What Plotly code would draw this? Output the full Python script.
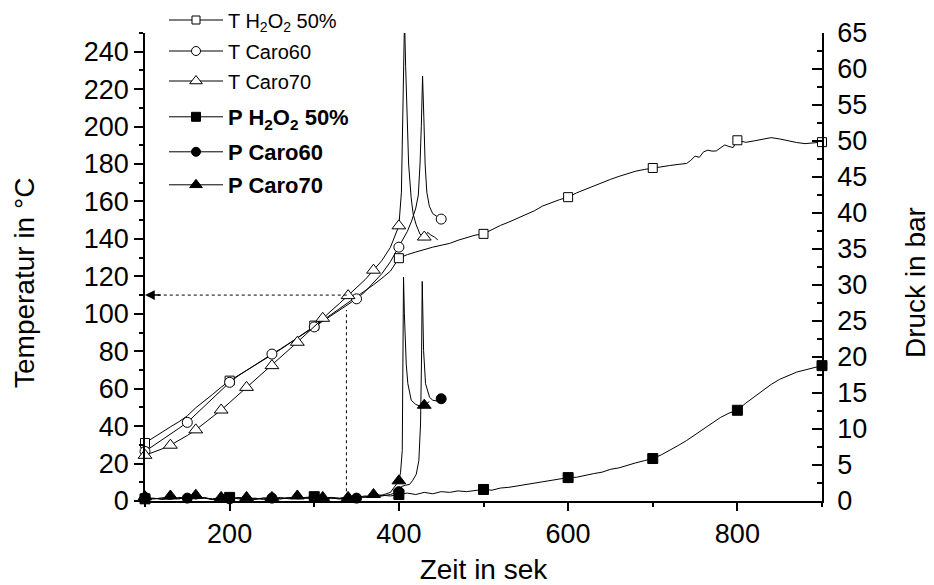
import plotly.graph_objects as go

FONT = "Arial, Liberation Sans, sans-serif"

# ---------------- data ----------------
# T H2O2 50 % (left axis, degC)
t_h2o2_time = [100, 110, 120, 130, 140, 150, 160, 170, 180, 190, 200, 210, 220, 230, 240, 250,
               260, 270, 280, 290, 300, 310, 320, 330, 340, 350, 360, 370, 380, 390, 400, 410,
               420, 430, 440, 450, 460, 470, 480, 490, 500, 510, 520, 530, 540, 550, 560, 570,
               580, 590, 600, 610, 620, 630, 640, 650, 660, 670, 680, 690, 700, 710, 720, 730,
               740, 745, 750, 755, 760, 765, 770, 775, 780, 785, 790, 795, 800, 810, 820, 830,
               840, 850, 860, 870, 880, 890, 900]
t_h2o2_temp = [31.0, 34.0, 36.8, 39.6, 42.3, 45.5, 49.8, 53.2, 57.0, 60.8, 64.3, 67.0, 69.8, 72.3,
               75.0, 77.8, 80.9, 84.0, 87.2, 90.4, 93.7, 96.5, 99.6, 102.8, 106.0, 108.8, 112.0,
               115.5, 119.0, 122.8, 129.7, 131.6, 133.0, 134.4, 135.6, 136.6, 137.6, 139.3, 140.6,
               142.0, 142.7, 145.0, 147.2, 149.0, 150.9, 153.0, 155.0, 157.6, 159.4, 161.0, 162.3,
               164.6, 166.4, 168.3, 170.0, 171.8, 173.4, 174.9, 176.2, 177.1, 177.9, 178.4, 179.2,
               179.8, 180.3, 182.0, 184.2, 183.6, 186.5, 187.4, 186.9, 187.0, 188.6, 190.2, 189.4,
               188.8, 192.7, 191.6, 192.4, 193.2, 194.1, 193.4, 192.4, 191.5, 190.9, 191.4, 191.7]
t_h2o2_marks = [100, 200, 300, 400, 500, 600, 700, 800, 900]

# T Caro60
t_c60_time = [100, 110, 120, 130, 140, 150, 160, 170, 180, 190, 200, 210, 220, 230, 240, 250,
              260, 270, 280, 290, 300, 310, 320, 330, 340, 350, 360, 370, 380, 390, 400, 405,
              410, 415, 420, 423, 425, 426.5, 428, 429.5, 431, 433, 436, 440, 445, 450]
t_c60_temp = [26.5, 29.5, 32.8, 35.8, 38.8, 42.0, 46.2, 50.6, 54.8, 59.2, 63.4, 66.8, 69.8, 72.8,
              75.8, 78.5, 81.2, 84.0, 87.0, 90.0, 93.0, 96.0, 99.2, 102.4, 105.2, 108.0, 111.8,
              116.5, 121.5, 127.8, 135.6, 139.5, 144.0, 149.5, 156.5, 163.5, 180.0, 200.0, 227.0,
              205.0, 180.0, 165.0, 157.5, 153.5, 152.0, 150.6]
t_c60_marks = [100, 150, 200, 250, 300, 350, 400, 450]

# T Caro70
t_c70_time = [100, 110, 120, 130, 140, 150, 160, 170, 180, 190, 200, 210, 220, 230, 240, 250,
              260, 270, 280, 290, 300, 310, 320, 330, 340, 350, 360, 370, 380, 390, 400, 403,
              405, 406.7, 408, 409.5, 411.5, 414.5, 417, 420.5, 425, 430, 434, 438, 442, 446]
t_c70_temp = [24.4, 26.0, 27.8, 29.8, 32.2, 35.0, 38.0, 41.5, 45.0, 48.6, 52.6, 56.6, 60.7, 64.6,
              68.5, 72.3, 76.5, 80.6, 84.8, 89.0, 93.3, 97.6, 101.6, 105.6, 109.7, 113.6, 118.2,
              123.3, 128.5, 135.5, 147.0, 165.0, 205.0, 258.0, 232.0, 212.0, 180.0, 162.0, 153.0,
              147.5, 142.5, 141.0, 143.5, 142.0, 141.0, 139.5]
t_c70_marks = [100, 130, 160, 190, 220, 250, 280, 310, 340, 370, 400, 430]

# P H2O2 50 % (right axis, bar)
p_h2o2_time = [100, 110, 120, 130, 140, 150, 160, 170, 180, 190, 200, 210, 220, 230, 240, 250,
               260, 270, 280, 290, 300, 310, 320, 330, 340, 350, 360, 370, 380, 390, 400, 410,
               420, 430, 440, 450, 460, 470, 480, 490, 500, 510, 520, 530, 540, 550, 560, 570,
               580, 590, 600, 610, 620, 630, 640, 650, 660, 670, 680, 690, 700, 710, 720, 730,
               740, 750, 760, 770, 780, 790, 800, 810, 820, 830, 840, 850, 860, 870, 880, 890, 900]
p_h2o2_pres = [0.3, 0.4, 0.2, 0.4, 0.3, 0.5, 0.3, 0.4, 0.2, 0.4, 0.5, 0.3, 0.4, 0.2, 0.4, 0.3,
               0.5, 0.3, 0.4, 0.5, 0.6, 0.4, 0.5, 0.4, 0.6, 0.5, 0.7, 0.6, 0.8, 0.7, 0.9, 1.1,
               0.9, 1.2, 1.0, 1.3, 1.2, 1.4, 1.3, 1.5, 1.6, 1.5, 1.8, 1.9, 2.1, 2.2, 2.4, 2.6,
               2.8, 3.0, 3.25, 3.3, 3.6, 3.8, 4.0, 4.4, 4.6, 5.0, 5.3, 5.6, 5.9, 6.4, 7.0, 7.7,
               8.4, 9.2, 10.1, 10.9, 11.6, 12.2, 12.6, 13.6, 14.5, 15.4, 16.2, 16.9, 17.4, 17.9,
               18.2, 18.5, 18.8]
p_h2o2_marks = [100, 200, 300, 400, 500, 600, 700, 800, 900]

# P Caro60
p_c60_time = [100, 110, 120, 130, 140, 150, 160, 170, 180, 190, 200, 210, 220, 230, 240, 250,
              260, 270, 280, 290, 300, 310, 320, 330, 340, 350, 360, 370, 380, 390, 400, 403,
              408, 412.6, 416, 420.5, 423.6, 425.6, 426.8, 427.6, 429.2, 431.5, 436.3, 440,
              444.2, 450]
p_c60_pres = [0.5, 0.3, 0.4, 0.2, 0.5, 0.4, 0.3, 0.5, 0.2, 0.4, 0.3, 0.5, 0.3, 0.4, 0.2, 0.4,
              0.3, 0.5, 0.3, 0.4, 0.5, 0.3, 0.4, 0.3, 0.5, 0.4, 0.6, 0.5, 0.7, 0.9, 1.3, 2.0,
              2.2, 2.3, 2.8, 3.7, 5.6, 10.7, 20.0, 30.5, 20.9, 16.3, 14.4, 14.0, 13.9, 14.2]
p_c60_marks = [100, 150, 200, 250, 300, 350, 400, 450]

# P Caro70
p_c70_time = [100, 110, 120, 130, 140, 150, 160, 170, 180, 190, 200, 210, 220, 230, 240, 250,
              260, 270, 280, 290, 300, 310, 320, 330, 340, 350, 360, 370, 380, 390, 400, 402,
              404, 404.7, 405.5, 406.5, 407.5, 408.7, 410.6, 414.6, 420, 425, 430, 436]
p_c70_pres = [0.6, 0.3, 0.4, 0.7, 0.3, 0.5, 0.8, 0.4, 0.3, 0.5, 0.3, 0.4, 0.5, 0.3, 0.4, 0.5,
              0.3, 0.4, 0.7, 0.4, 0.3, 0.5, 0.4, 0.3, 0.5, 0.6, 0.5, 0.9, 0.8, 1.2, 2.8, 4.0,
              7.0, 20.9, 31.1, 26.0, 22.0, 19.0, 16.3, 14.0, 13.4, 13.2, 13.3, 13.8]
p_c70_marks = [100, 130, 160, 190, 220, 250, 280, 310, 340, 370, 400, 430]

# reference marks (dotted guide lines)
ref_time = 338
ref_temp = 110

legend_names = ["T H<sub>2</sub>O<sub>2</sub> 50%", "T Caro60", "T Caro70",
                "<b>P H<sub>2</sub>O<sub>2</sub> 50%</b>", "<b>P Caro60</b>", "<b>P Caro70</b>"]
x_title = "Zeit in sek"
y_title = "Temperatur in °C"
y2_title = "Druck in bar"

# ---------------- figure ----------------
W, H = 934, 585
ML, MR, MT, MB = 145, 112, 33, 84
PW, PH = W - ML - MR, H - MT - MB

fig = go.Figure()


def pick(times, values, marks):
    lookup = dict(zip(times, values))
    return marks, [lookup[m] for m in marks]


series = [
    (t_h2o2_time, t_h2o2_temp, t_h2o2_marks, "y", "square", 9, "white"),
    (t_c60_time, t_c60_temp, t_c60_marks, "y", "circle", 10, "white"),
    (t_c70_time, t_c70_temp, t_c70_marks, "y", "triangle-up", 12, "white"),
    (p_h2o2_time, p_h2o2_pres, p_h2o2_marks, "y2", "square", 10, "black"),
    (p_c60_time, p_c60_pres, p_c60_marks, "y2", "circle", 10, "black"),
    (p_c70_time, p_c70_pres, p_c70_marks, "y2", "triangle-up", 12, "black"),
]

for i, (tx, vy, mk, yax, sym, size, fill) in enumerate(series):
    fig.add_trace(go.Scatter(x=tx, y=vy, mode="lines", yaxis=yax,
                             line=dict(color="black", width=1), showlegend=False,
                             hoverinfo="skip"))
    mx, my = pick(tx, vy, mk)
    fig.add_trace(go.Scatter(x=mx, y=my, mode="markers", yaxis=yax, cliponaxis=False,
                             marker=dict(symbol=sym, size=size, color=fill,
                                         line=dict(color="black", width=1)),
                             showlegend=False))

# legend entries, each in its own legend box (paper coordinates, no margin push)
legend_rows = [20, 51, 81, 117, 152, 185]
for i, (tx, vy, mk, yax, sym, size, fill) in enumerate(series):
    lname = "legend" if i == 0 else "legend%d" % (i + 1)
    fig.add_trace(go.Scatter(x=[None], y=[None], mode="lines+markers", yaxis=yax,
                             name=legend_names[i], legend=lname,
                             line=dict(color="black", width=1),
                             marker=dict(symbol=sym, size=size - 1, color=fill,
                                         line=dict(color="black", width=1))))

legend_layout = {}
for i, row in enumerate(legend_rows):
    lname = "legend" if i == 0 else "legend%d" % (i + 1)
    bold = i >= 3
    legend_layout[lname] = dict(
        xref="paper", yref="paper", x=(164 - ML) / PW, y=(H - MB - row) / PH,
        xanchor="left", yanchor="middle", bgcolor="rgba(0,0,0,0)", borderwidth=0,
        itemwidth=54, font=dict(family=FONT, size=22 if bold else 20, color="black"),
    )

# dotted guide lines
fig.add_shape(type="line", xref="x", yref="y", x0=108, x1=ref_time + 3, y0=ref_temp, y1=ref_temp,
              line=dict(color="black", width=1, dash="dot"))
fig.add_shape(type="line", xref="x", yref="y", x0=ref_time, x1=ref_time, y0=2, y1=ref_temp - 8,
              line=dict(color="black", width=1, dash="dot"))
fig.add_annotation(x=100, y=ref_temp, xref="x", yref="y", ax=17, ay=0, text="",
                   showarrow=True, arrowhead=2, arrowsize=1.3, arrowwidth=1.5,
                   arrowcolor="black", standoff=0)

# vertical axis titles (placed as in the reference, slightly below the axis centre)
title_y = (H - MB - 283) / PH
fig.add_annotation(text=y_title, xref="paper", yref="paper", x=(24 - ML) / PW, y=title_y,
                   textangle=-90, showarrow=False, xanchor="center", yanchor="middle",
                   font=dict(family=FONT, size=28, color="black"))
fig.add_annotation(text=y2_title, xref="paper", yref="paper", x=(915 - ML) / PW, y=title_y,
                   textangle=-90, showarrow=False, xanchor="center", yanchor="middle",
                   font=dict(family=FONT, size=28, color="black"))

axis_common = dict(showgrid=False, zeroline=False, showline=True, linecolor="black",
                   linewidth=1.5, tickcolor="black", tickwidth=1.5, automargin=False,
                   tickfont=dict(family=FONT, size=27, color="black"))

fig.update_layout(
    width=W, height=H,
    margin=dict(l=ML, r=MR, t=MT, b=MB, autoexpand=False),
    plot_bgcolor="white", paper_bgcolor="white",
    font=dict(family=FONT, color="black"),
    xaxis=dict(range=[100, 900], tick0=0, dtick=200, ticks="outside", ticklen=8,
               minor=dict(dtick=100, tick0=0, ticks="outside", ticklen=4, tickcolor="black",
                          tickwidth=1.5),
               title=dict(text=x_title, font=dict(family=FONT, size=28), standoff=20),
               **axis_common),
    yaxis=dict(range=[0, 250], tick0=0, dtick=20, ticks="outside", ticklen=9,
               minor=dict(dtick=10, tick0=0, ticks="outside", ticklen=4, tickcolor="black",
                          tickwidth=1.5),
               **axis_common),
    yaxis2=dict(range=[0, 65], tick0=0, dtick=5, overlaying="y", side="right",
                ticks="inside", ticklen=10, ticklabelstandoff=8,
                minor=dict(dtick=2.5, tick0=0, ticks="inside", ticklen=5, tickcolor="black",
                           tickwidth=1.5),
                **axis_common),
    **legend_layout,
)

fig.write_html("out.html")
